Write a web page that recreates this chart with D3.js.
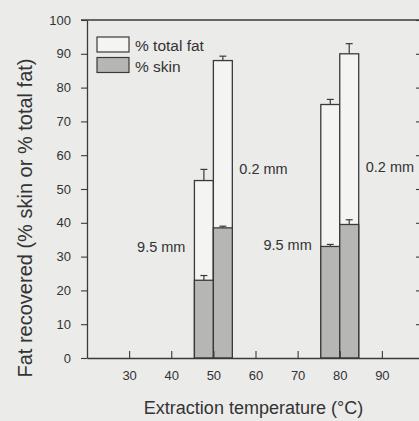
<!DOCTYPE html>
<html><head><meta charset="utf-8">
<script src="https://cdn.jsdelivr.net/npm/d3@7"></script>
<style>
html,body{margin:0;padding:0;background:#ebebea;}
svg{display:block;}
text{font-family:"Liberation Sans",Arial,sans-serif;fill:#333;}
</style></head>
<body>
<script>
// ---- data ----
const temperatures = [50, 80];
const particleSizes = ["9.5 mm", "0.2 mm"];
const totalFat_9_5 = [52.5, 75];
const totalFatErr_9_5 = [3.3, 1.5];
const totalFat_0_2 = [88, 90];
const totalFatErr_0_2 = [1.3, 3];
const skin_9_5 = [23, 33];
const skinErr_9_5 = [1.4, 0.6];
const skin_0_2 = [38.5, 39.5];
const skinErr_0_2 = [0.5, 1.4];
const xTicks = [30, 40, 50, 60, 70, 80, 90];
const yTicks = [0, 10, 20, 30, 40, 50, 60, 70, 80, 90, 100];
const legendLabels = ["% total fat", "% skin"];
const xTitle = "Extraction temperature (°C)";
const yTitle = "Fat recovered (% skin or % total fat)";

// ---- build bar table ----
const barWidthUnits = 4.5;
const bars = [];
temperatures.forEach((t, i) => {
  bars.push({t, size: particleSizes[0], x0: t - barWidthUnits, x1: t,
    total: totalFat_9_5[i], totalErr: totalFatErr_9_5[i], skin: skin_9_5[i], skinErr: skinErr_9_5[i]});
  bars.push({t, size: particleSizes[1], x0: t, x1: t + barWidthUnits,
    total: totalFat_0_2[i], totalErr: totalFatErr_0_2[i], skin: skin_0_2[i], skinErr: skinErr_0_2[i]});
});

const W = 419, H = 421;
const svg = d3.select("body").append("svg").attr("width", W).attr("height", H);
svg.append("rect").attr("width", W).attr("height", H).attr("fill", "#ebebea");

const x = d3.scaleLinear().domain([20, 100]).range([87, 424]);
const y = d3.scaleLinear().domain([0, 100]).range([358, 20]);
const ink = "#3a3a3a";

// bars: total fat (white)
svg.selectAll("rect.total").data(bars).enter().append("rect")
  .attr("x", d => x(d.x0)).attr("width", d => x(d.x1) - x(d.x0))
  .attr("y", d => y(d.total)).attr("height", d => y(0) - y(d.total))
  .attr("fill", "#f4f4f3").attr("stroke", ink).attr("stroke-width", 1.3);
// bars: skin (gray)
svg.selectAll("rect.skin").data(bars).enter().append("rect")
  .attr("x", d => x(d.x0)).attr("width", d => x(d.x1) - x(d.x0))
  .attr("y", d => y(d.skin)).attr("height", d => y(0) - y(d.skin))
  .attr("fill", "#b6b6b4").attr("stroke", ink).attr("stroke-width", 1.3);

// error bars
function errBars(key, errKey) {
  const g = svg.append("g").attr("stroke", ink).attr("stroke-width", 1.2);
  bars.forEach(d => {
    const cx = (x(d.x0) + x(d.x1)) / 2;
    g.append("line").attr("x1", cx).attr("x2", cx)
      .attr("y1", y(d[key])).attr("y2", y(d[key] + d[errKey]));
    g.append("line").attr("x1", cx - 3.5).attr("x2", cx + 3.5)
      .attr("y1", y(d[key] + d[errKey])).attr("y2", y(d[key] + d[errKey]));
  });
}
errBars("total", "totalErr");
errBars("skin", "skinErr");

// axes
const yAxis = d3.axisLeft(y).tickValues(yTicks).tickSizeInner(6).tickSizeOuter(0).tickPadding(10);
const gy = svg.append("g").attr("transform", `translate(${x(20)},0)`).call(yAxis);
const yAxisR = d3.axisRight(y).tickValues(yTicks.slice(1)).tickSizeInner(-8).tickSizeOuter(0).tickFormat("");
const gyr = svg.append("g").attr("transform", `translate(${x(100)},0)`).call(yAxisR);
const xAxis = d3.axisBottom(x).tickValues(xTicks).tickSizeInner(-7).tickSizeOuter(0).tickPadding(13);
const gx = svg.append("g").attr("transform", `translate(0,${y(0)})`).call(xAxis);
svg.append("line").attr("x1", x(20) - 6).attr("x2", x(100)).attr("y1", y(100)).attr("y2", y(100))
  .attr("stroke", ink).attr("stroke-width", 1.3);
[gy, gyr, gx].forEach(g => {
  g.select(".domain").attr("stroke", ink).attr("stroke-width", 1.3);
  g.selectAll(".tick line").attr("stroke", ink).attr("stroke-width", 1.1);
  g.selectAll(".tick text").attr("font-size", 13).attr("fill", "#333")
    .attr("font-family", "'Liberation Sans',Arial,sans-serif");
});

// axis titles
svg.append("text").attr("x", (x(20) + x(100)) / 2 - 2).attr("y", 414)
  .attr("text-anchor", "middle").attr("font-size", 18).text(xTitle);
svg.append("text").attr("transform", `translate(32,${(y(0) + y(100)) / 2 + 29}) rotate(-90)`)
  .attr("text-anchor", "middle").attr("font-size", 20).text(yTitle);

// legend
const legendFills = ["#f4f4f3", "#b6b6b4"];
legendLabels.forEach((lab, i) => {
  svg.append("rect").attr("x", 97).attr("y", 37 + i * 20.5).attr("width", 32).attr("height", 15)
    .attr("fill", legendFills[i]).attr("stroke", ink).attr("stroke-width", 1.2);
  svg.append("text").attr("x", 135).attr("y", 51 + i * 20.5).attr("font-size", 15.5).text(lab);
});

// size annotations
temperatures.forEach((t, i) => {
  svg.append("text").attr("x", x(t - barWidthUnits) - 9).attr("y", y(31.5) + (i ? -2 : 0))
    .attr("text-anchor", "end").attr("font-size", 14.5).text(particleSizes[0]);
  svg.append("text").attr("x", x(t + barWidthUnits) + 7).attr("y", y(54.5) + (i ? -2 : 0))
    .attr("text-anchor", "start").attr("font-size", 14.5).text(particleSizes[1]);
});
</script>
</body></html>
